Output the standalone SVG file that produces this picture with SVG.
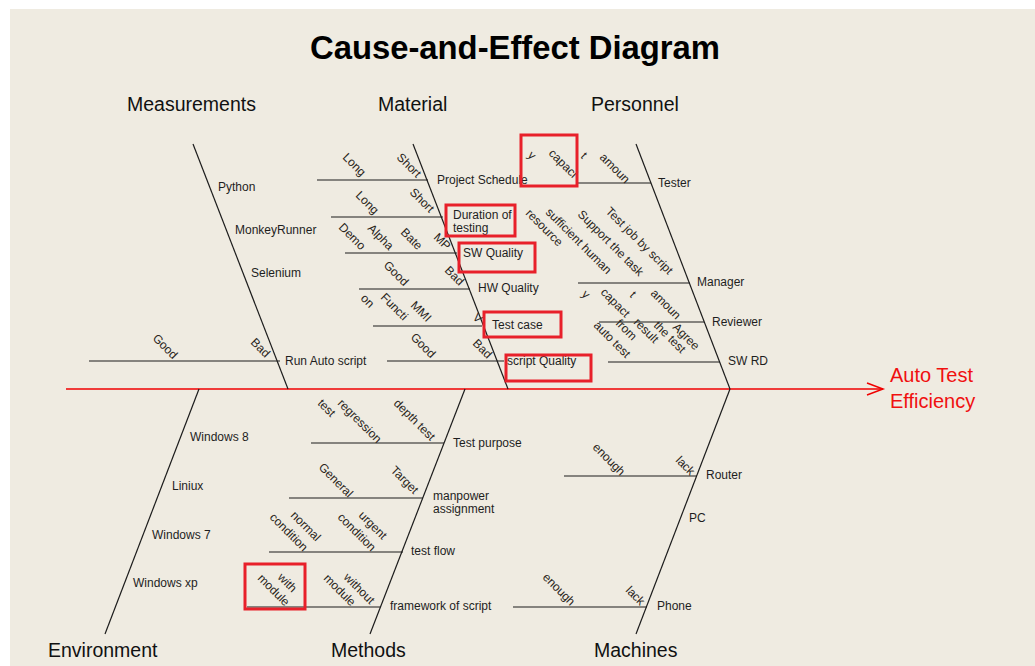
<svg xmlns="http://www.w3.org/2000/svg" width="1035" height="666" viewBox="0 0 1035 666">
  <style>
    .bg { fill: #EFEBE1; }
    .bone { stroke: #1c1c1c; stroke-width: 1.2; fill: none; }
    .spine { stroke: #F00000; stroke-width: 1.5; fill: none; }
    .hl { stroke: #E8202A; stroke-width: 3; fill: none; }
    .title { font-family: "Liberation Sans", Arial, sans-serif; font-weight: bold; font-size: 33px; fill: #000; }
    .cat { font-family: "Liberation Sans", Arial, sans-serif; font-size: 19.5px; fill: #111; }
    .lbl { font-family: "Liberation Sans", Arial, sans-serif; font-size: 12px; fill: #1e1e1e; }
    .rot { font-family: "Liberation Sans", Arial, sans-serif; font-size: 12px; fill: #2a2520; }
    .effect { font-family: "Liberation Sans", Arial, sans-serif; font-size: 20px; fill: #F01010; }
  </style>

  <rect x="0" y="0" width="1035" height="666" fill="#ffffff"/>
  <rect class="bg" x="10" y="9" width="1025" height="657"/>

  <text class="title" x="515" y="59" text-anchor="middle" textLength="410" lengthAdjust="spacingAndGlyphs">Cause-and-Effect Diagram</text>

  <!-- main spine and bones -->
  <g id="connectors">
    <line class="spine" x1="66" y1="389" x2="883" y2="389"/>
    <polyline class="spine" points="867,383 883,389 867,395"/>
    <!-- top bones -->
    <line class="bone" x1="193" y1="144" x2="288" y2="389"/>
    <line class="bone" x1="413" y1="144" x2="508" y2="389"/>
    <line class="bone" x1="636" y1="144" x2="730" y2="389"/>
    <!-- bottom bones -->
    <line class="bone" x1="199" y1="389" x2="105" y2="634"/>
    <line class="bone" x1="465" y1="389" x2="370" y2="634"/>
    <line class="bone" x1="730" y1="389" x2="636" y2="634"/>
  </g>

  <g id="effect">
    <text class="effect" x="890" y="382">Auto Test</text>
    <text class="effect" x="890" y="408">Efficiency</text>
  </g>

  <!-- Measurements -->
  <g id="measurements">
    <text class="cat" x="127" y="111">Measurements</text>
    <text class="lbl" x="218" y="191">Python</text>
    <text class="lbl" x="235" y="234">MonkeyRunner</text>
    <text class="lbl" x="251" y="277">Selenium</text>
    <line class="bone" x1="89" y1="361" x2="280" y2="361"/>
    <text class="lbl" x="285" y="365">Run Auto script</text>
    <text class="rot" transform="translate(152,339) rotate(45)">Good</text>
    <text class="rot" transform="translate(250,343) rotate(45)">Bad</text>
  </g>

  <!-- Material -->
  <g id="material">
    <text class="cat" x="378" y="111">Material</text>
    <line class="bone" x1="317" y1="180" x2="428" y2="180"/>
    <text class="lbl" x="437" y="184">Project Schedule</text>
    <text class="rot" transform="translate(342,158) rotate(45)">Long</text>
    <text class="rot" transform="translate(396,158) rotate(45)">Short</text>

    <line class="bone" x1="331" y1="217" x2="443" y2="217"/>
    <text class="lbl" x="453" y="219">Duration of</text>
    <text class="lbl" x="453" y="232">testing</text>
    <text class="rot" transform="translate(355,196) rotate(45)">Long</text>
    <text class="rot" transform="translate(409,193) rotate(45)">Short</text>

    <line class="bone" x1="345" y1="253" x2="457" y2="253"/>
    <text class="lbl" x="463" y="257">SW Quality</text>
    <text class="rot" transform="translate(338,228) rotate(45)">Demo</text>
    <text class="rot" transform="translate(367,229) rotate(45)">Alpha</text>
    <text class="rot" transform="translate(400,233) rotate(45)">Bate</text>
    <text class="rot" transform="translate(433,238) rotate(45)">MP</text>

    <line class="bone" x1="359" y1="289" x2="470" y2="289"/>
    <text class="lbl" x="478" y="292">HW Quality</text>
    <text class="rot" transform="translate(383,266) rotate(45)">Good</text>
    <text class="rot" transform="translate(444,271) rotate(45)">Bad</text>

    <line class="bone" x1="373" y1="326" x2="482" y2="326"/>
    <text class="lbl" x="492" y="329">Test case</text>
    <text class="rot" transform="translate(360,299) rotate(45)">on</text>
    <text class="rot" transform="translate(380,298) rotate(45)">Functi</text>
    <text class="rot" transform="translate(410,306) rotate(45)">MMI</text>
    <text class="rot" transform="translate(472,318) rotate(45)">V</text>

    <line class="bone" x1="387" y1="361" x2="504" y2="361"/>
    <text class="lbl" x="507" y="365">script Quality</text>
    <text class="rot" transform="translate(410,338) rotate(45)">Good</text>
    <text class="rot" transform="translate(472,344) rotate(45)">Bad</text>
  </g>

  <!-- Personnel -->
  <g id="personnel">
    <text class="cat" x="591" y="111">Personnel</text>
    <line class="bone" x1="577" y1="183" x2="651" y2="183"/>
    <text class="lbl" x="658" y="187">Tester</text>
    <text class="rot" transform="translate(527,156) rotate(45)">y</text>
    <text class="rot" transform="translate(548,154) rotate(45)">capaci</text>
    <text class="rot" transform="translate(580,157) rotate(45)">t</text>
    <text class="rot" transform="translate(599,158) rotate(45)">amoun</text>

    <line class="bone" x1="578" y1="283" x2="690" y2="283"/>
    <text class="lbl" x="697" y="286">Manager</text>
    <text class="rot" transform="translate(525,214) rotate(45)">resource</text>
    <text class="rot" transform="translate(545,213) rotate(45)">sufficient human</text>
    <text class="rot" transform="translate(577,215) rotate(45)">Support the task</text>
    <text class="rot" transform="translate(605,212) rotate(45)">Test job by script</text>

    <line class="bone" x1="599" y1="322" x2="704" y2="322"/>
    <text class="lbl" x="712" y="326">Reviewer</text>
    <text class="rot" transform="translate(581,295) rotate(45)">y</text>
    <text class="rot" transform="translate(600,293) rotate(45)">capact</text>
    <text class="rot" transform="translate(629,296) rotate(45)">t</text>
    <text class="rot" transform="translate(650,294) rotate(45)">amoun</text>
    <text class="rot" transform="translate(593,326) rotate(45)">auto test</text>
    <text class="rot" transform="translate(615,324) rotate(45)">from</text>
    <text class="rot" transform="translate(633,323) rotate(45)">result</text>
    <text class="rot" transform="translate(653,326) rotate(45)">the test</text>
    <text class="rot" transform="translate(672,328) rotate(45)">Agree</text>

    <line class="bone" x1="608" y1="362" x2="720" y2="362"/>
    <text class="lbl" x="728" y="365">SW RD</text>
  </g>

  <!-- Environment -->
  <g id="environment">
    <text class="cat" x="48" y="657">Environment</text>
    <text class="lbl" x="190" y="441">Windows 8</text>
    <text class="lbl" x="172" y="490">Liniux</text>
    <text class="lbl" x="152" y="539">Windows 7</text>
    <text class="lbl" x="133" y="587">Windows xp</text>
  </g>

  <!-- Methods -->
  <g id="methods">
    <text class="cat" x="331" y="657">Methods</text>
    <line class="bone" x1="311" y1="443" x2="444" y2="443"/>
    <text class="lbl" x="453" y="447">Test purpose</text>
    <text class="rot" transform="translate(317,404) rotate(45)">test</text>
    <text class="rot" transform="translate(337,404) rotate(45)">regression</text>
    <text class="rot" transform="translate(393,404) rotate(45)">depth test</text>

    <line class="bone" x1="289" y1="498" x2="423" y2="498"/>
    <text class="lbl" x="433" y="500">manpower</text>
    <text class="lbl" x="433" y="513">assignment</text>
    <text class="rot" transform="translate(318,468) rotate(45)">General</text>
    <text class="rot" transform="translate(390,471) rotate(45)">Target</text>

    <line class="bone" x1="269" y1="552" x2="403" y2="552"/>
    <text class="lbl" x="411" y="555">test flow</text>
    <text class="rot" transform="translate(290,516) rotate(45)">normal</text>
    <text class="rot" transform="translate(269,518) rotate(45)">condition</text>
    <text class="rot" transform="translate(358,516) rotate(45)">urgent</text>
    <text class="rot" transform="translate(337,518) rotate(45)">condition</text>

    <line class="bone" x1="247" y1="607" x2="380" y2="607"/>
    <text class="lbl" x="390" y="610">framework of script</text>
    <text class="rot" transform="translate(277,578) rotate(45)">with</text>
    <text class="rot" transform="translate(257,579) rotate(45)">module</text>
    <text class="rot" transform="translate(343,578) rotate(45)">without</text>
    <text class="rot" transform="translate(323,579) rotate(45)">module</text>
  </g>

  <!-- Machines -->
  <g id="machines">
    <text class="cat" x="594" y="657">Machines</text>
    <line class="bone" x1="564" y1="476" x2="697" y2="476"/>
    <text class="lbl" x="706" y="479">Router</text>
    <text class="rot" transform="translate(592,448) rotate(45)">enough</text>
    <text class="rot" transform="translate(675,461) rotate(45)">lack</text>
    <text class="lbl" x="689" y="522">PC</text>
    <line class="bone" x1="513" y1="607" x2="647" y2="607"/>
    <text class="lbl" x="657" y="610">Phone</text>
    <text class="rot" transform="translate(542,578) rotate(45)">enough</text>
    <text class="rot" transform="translate(625,591) rotate(45)">lack</text>
  </g>

  <!-- highlighted items -->
  <g id="highlights">
    <rect class="hl" x="521" y="135" width="56" height="51"/>
    <rect class="hl" x="446" y="205" width="69" height="31"/>
    <rect class="hl" x="459" y="243" width="76" height="29"/>
    <rect class="hl" x="484" y="312" width="77" height="25"/>
    <rect class="hl" x="506" y="355" width="85" height="26"/>
    <rect class="hl" x="245" y="564" width="60" height="45"/>
  </g>
</svg>
